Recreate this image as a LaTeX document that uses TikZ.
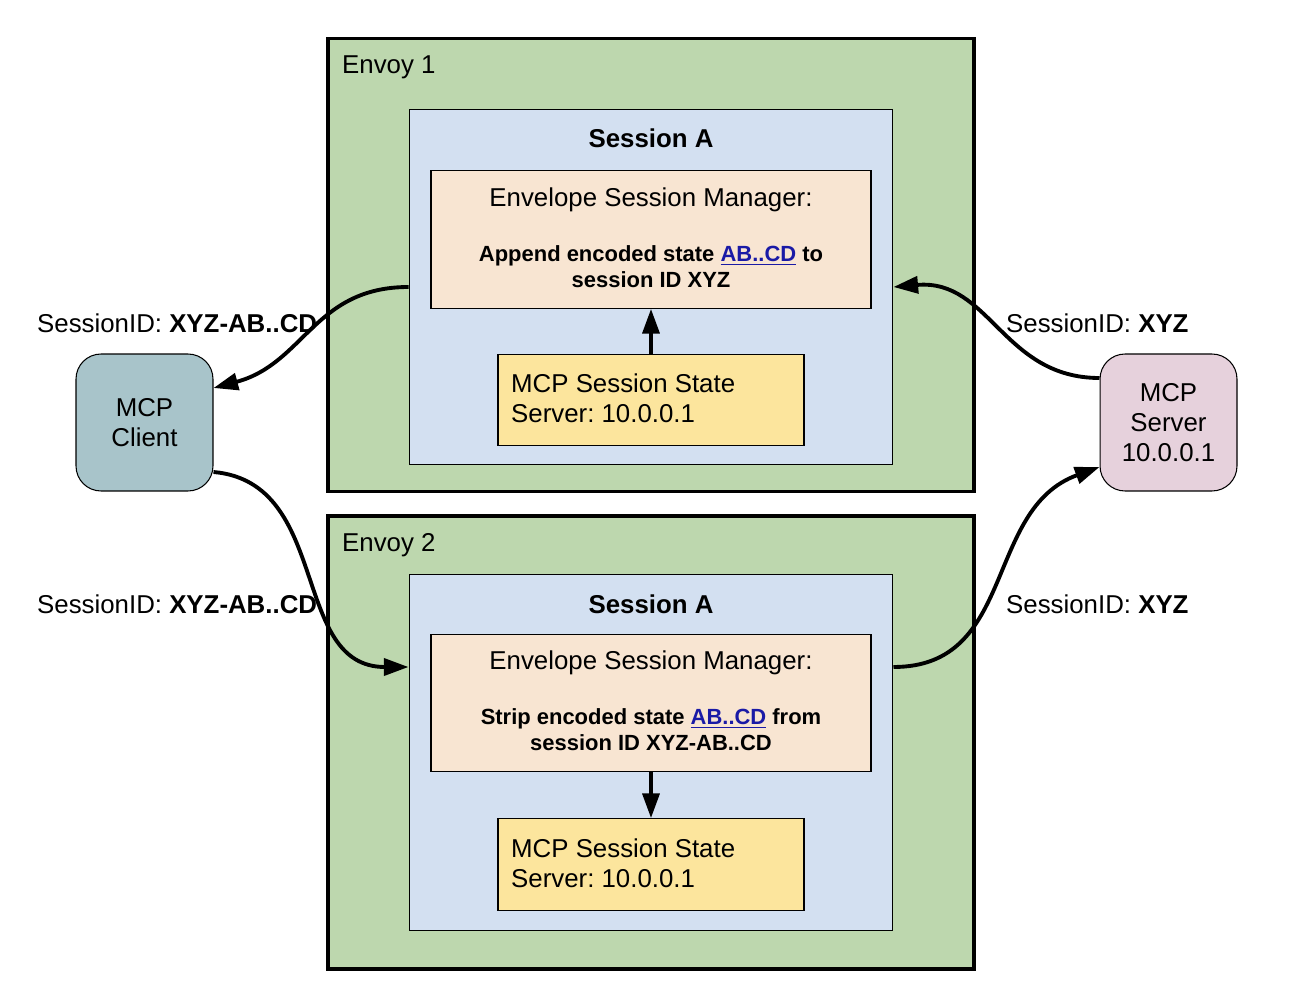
\documentclass[tikz,border=0pt]{standalone}
\usepackage{fontspec}
\setmainfont{Liberation Sans}
\usepackage{tikz}
\usetikzlibrary{positioning, arrows.meta}
\usepackage{xcolor}
\definecolor{envoygreen}{HTML}{BDD7AE}
\definecolor{sessblue}{HTML}{D3E0F1}
\definecolor{mgrpeach}{HTML}{F8E5D2}
\definecolor{stateyellow}{HTML}{FCE59D}
\definecolor{clientteal}{HTML}{A8C4CA}
\definecolor{serverpink}{HTML}{E6D1DC}
\definecolor{linkblue}{HTML}{1A1AA6}
\newcommand{\lnk}[1]{\textcolor{linkblue}{\underline{#1}}}
\frenchspacing

\begin{document}
\begin{tikzpicture}[x=0.02cm, y=-0.02cm,
                >={Stealth[inset=0pt,length=14pt,angle'=38]},
                font=\fontsize{14.7}{17}\selectfont,
                envoy/.style={draw, line width=2pt, fill=envoygreen, minimum width=12.92cm, minimum height=9.07cm},
                session/.style={draw, line width=0.6pt, fill=sessblue, minimum width=9.68cm, minimum height=7.11cm},
                manager/.style={draw, line width=0.8pt, fill=mgrpeach, minimum width=8.8cm, minimum height=2.75cm},
                statebox/.style={draw, line width=0.8pt, fill=stateyellow, minimum width=6.12cm, minimum height=1.83cm},
                peer/.style={draw, line width=0.6pt, rounded corners=0.5cm, minimum width=2.74cm, minimum height=2.74cm, align=center},
                boldtxt/.style={font=\fontsize{12.5}{14.7}\selectfont\bfseries, align=center},
                link/.style={line width=2.2pt}]

    \useasboundingbox (0,0) rectangle (1308,1000);

    % Envoy 1
    \node[envoy] (env1) at (651,265) {};
    \node[anchor=west] (env1lbl) at (336,67) {Envoy 1};
    \node[session] (sa1) at (651,287) {};
    \node[font=\fontsize{14.7}{17}\selectfont\bfseries] (sa1lbl) at (651,138) {Session A};
    \node[manager] (esm1) at (651,239.5) {};
    \node (esm1lbl) at (651,200) {Envelope Session Manager:};
    \node[boldtxt] (esm1txt) at (651,267) {Append encoded state \lnk{AB..CD} to\\session ID XYZ};
    \node[statebox] (st1) at (651,400) {};
    \node[anchor=west, align=left] (st1txt) at (505,398) {MCP Session State\\Server: 10.0.0.1};

    % Envoy 2
    \node[envoy] (env2) at (651,742.5) {};
    \node[anchor=west] (env2lbl) at (336,545) {Envoy 2};
    \node[session] (sa2) at (651,752.5) {};
    \node[font=\fontsize{14.7}{17}\selectfont\bfseries] (sa2lbl) at (651,604) {Session A};
    \node[manager] (esm2) at (651,703) {};
    \node (esm2lbl) at (651,663) {Envelope Session Manager:};
    \node[boldtxt] (esm2txt) at (651,730) {Strip encoded state \lnk{AB..CD} from\\session ID XYZ-AB..CD};
    \node[statebox] (st2) at (651,864.5) {};
    \node[anchor=west, align=left] (st2txt) at (505,863) {MCP Session State\\Server: 10.0.0.1};

    % peers
    \node[peer, fill=clientteal] (client) at (144.5,422.5) {MCP\\Client};
    \node[peer, fill=serverpink] (server) at (1168.5,422.5) {MCP\\Server\\10.0.0.1};

    % labels
    \node[anchor=west] (lblc1) at (31,323) {SessionID: \textbf{XYZ-AB..CD}};
    \node[anchor=west] (lblc2) at (31,604) {SessionID: \textbf{XYZ-AB..CD}};
    \node[anchor=west] (lbls1) at (1000,323) {SessionID: \textbf{XYZ}};
    \node[anchor=west] (lbls2) at (1000,604) {SessionID: \textbf{XYZ}};

    % connectors
    \draw[->, link] (sa1.west |- 0,287) to[out=180, in=15, looseness=1.1] (client.east |- 0,388);
    \draw[->, link] (client.east |- 0,472) to[out=-5, in=180, looseness=1.1] (sa2.west |- 0,667);
    \draw[->, link] (server.west |- 0,378) to[out=180, in=5, looseness=1.1] (sa1.east |- 0,287);
    \draw[->, link] (sa2.east |- 0,667) to[out=0, in=200, looseness=1.1] (server.west |- 0,467);
    \draw[->, line width=2pt] (st1.north) -- (esm1.south);
    \draw[->, line width=2pt] (esm2.south) -- (st2.north);
\end{tikzpicture}
\end{document}
